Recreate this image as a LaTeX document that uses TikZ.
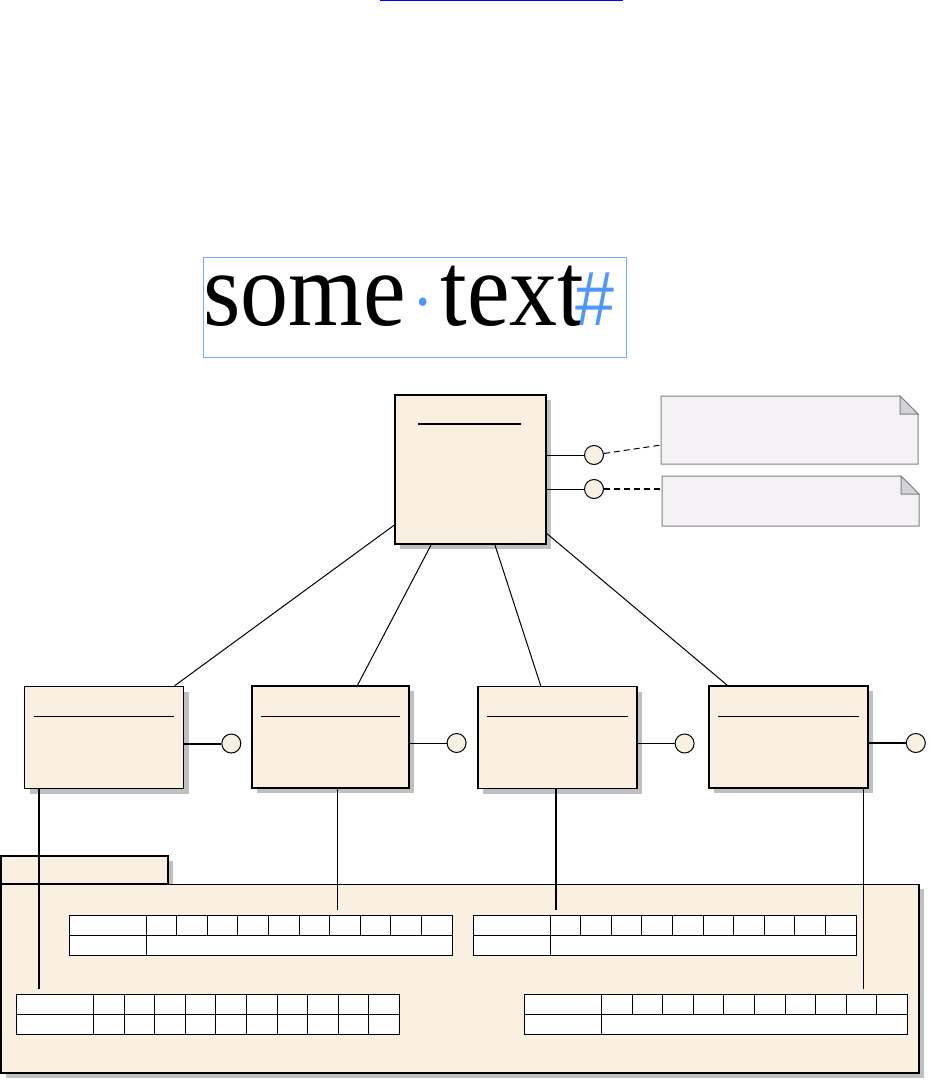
\documentclass[tikz,border=0pt]{standalone}
\usepackage{fontspec}
\setmainfont{Liberation Serif}
\newfontfamily\hashfont{Liberation Sans}
\usepackage{xcolor}
\usepackage{tikz}
\usetikzlibrary{positioning,shadows}
\definecolor{classfill}{RGB}{250,240,226}
\definecolor{notefill}{RGB}{245,242,246}
\definecolor{foldfill}{RGB}{213,210,216}
\definecolor{noteline}{RGB}{128,128,128}
\definecolor{markblue}{RGB}{80,150,255}
\definecolor{frameblue}{RGB}{120,170,245}
\definecolor{shade}{RGB}{192,192,192}

\begin{document}
\begin{tikzpicture}[x=1pt,y=-1pt,
  cls/.style={draw,fill=classfill,line width=1.6pt,minimum width=159pt,minimum height=102pt,
              drop shadow={shadow xshift=5pt,shadow yshift=-5pt,fill=shade,opacity=1}},
  port/.style={circle,draw,fill=classfill,line width=1pt,minimum size=19pt,inner sep=0pt},
  notebox/.style={minimum width=257pt,inner sep=0pt,outer sep=0pt},
  hint/.style={line width=1pt,dash pattern=on 6pt off 4pt},
  tbl/.style={draw,fill=white,line width=1pt,minimum width=383pt,minimum height=40pt,
              inner sep=0pt,outer sep=0pt},
  pkg/.style={fill=classfill,inner sep=0pt,outer sep=0pt,
              drop shadow={shadow xshift=5pt,shadow yshift=-5pt,fill=shade,opacity=1}}
]
\useasboundingbox (0,0) rectangle (932,1089);

\draw[blue,line width=1pt] (380,1) -- (623,1);

\node[draw=frameblue,line width=1pt,minimum width=423pt,minimum height=100pt,inner sep=0pt] (frame) at (414.5,307) {};
\node[anchor=base west,inner sep=0pt] (sometext) at (203,325)
  {\scalebox{1}[1.1]{\fontsize{96}{96}\selectfont some\makebox[0.36em]{\fontsize{64}{64}\selectfont\color{markblue}\textperiodcentered}text\hspace{-9pt}{\hashfont\fontsize{70}{70}\selectfont\color{markblue}\#}}};

\node[cls,line width=2pt,minimum width=151pt,minimum height=149pt] (top) at (470.5,469.5) {};
\draw[line width=2pt] ([xshift=24pt,yshift=-30pt]top.north west) -- ([xshift=-26pt,yshift=-30pt]top.north east);

\node[cls] (c1) at (104,737.5) {};
\node[cls,line width=1.2pt,minimum width=157pt] (c2) at (330.5,737) {};
\node[cls,line width=1.2pt] (c3) at (557.5,737.5) {};
\node[cls] (c4) at (788.5,737) {};
\foreach \c in {c1,c2,c3,c4}
  \draw[line width=1pt] ([xshift=10pt,yshift=-31pt]\c.north west) -- ([xshift=-10pt,yshift=-31pt]\c.north east);

\foreach \c/\w in {c1/2pt,c2/1pt,c3/1pt,c4/2pt}{
  \node[port,right=37pt of \c.east,yshift=-6pt] (p\c) {};
  \draw[line width=\w] (\c.east |- p\c) -- (p\c);
}

\node[port,right=37pt of top.east,yshift=14.5pt] (q1) {};
\node[port,right=37pt of top.east,yshift=-19.5pt] (q2) {};
\draw[line width=1pt] (top.east |- q1) -- (q1);
\draw[line width=1pt] (top.east |- q2) -- (q2);

\node[notebox,minimum height=68pt] (n1) at (789.5,430) {};
\node[notebox,minimum height=50pt] (n2) at (790.5,501) {};
\foreach \n in {n1,n2}{
  \draw[draw=noteline,fill=notefill,line width=1pt] (\n.north west) -- ([xshift=-18pt]\n.north east)
    -- ([yshift=-18pt]\n.north east) -- (\n.south east) -- (\n.south west) -- cycle;
  \draw[draw=noteline,fill=foldfill,line width=1pt] ([xshift=-18pt]\n.north east)
    -- ([xshift=-18pt,yshift=-18pt]\n.north east) -- ([yshift=-18pt]\n.north east) -- cycle;
}
\draw[hint] (q1) -- ([yshift=-15pt]n1.west);
\draw[hint,line width=2pt] (q2) -- (q2 -| n2.west);

\foreach \c in {c1,c2,c3,c4}
  \draw[line width=1pt] (top) -- (\c);

\node[pkg,draw,line width=2pt,minimum width=167pt,minimum height=28pt] (tab) at (84.5,870) {};
\node[pkg,draw,line width=1pt,minimum width=918pt,minimum height=189pt] (pkgbody) at (460,978.5) {};
\draw[line width=2pt] (tab.south east) -- (pkgbody.north west) -- (pkgbody.south west)
  -- (pkgbody.south east) -- (pkgbody.north east);

\node[tbl] (tA) at (260.5,935) {};
\node[tbl,right=21pt of tA] (tB) {};
\node[tbl] (tC) at (208,1014.5) {};
\node[tbl] (tD) at (716,1014) {};
\foreach \t/\e in {tA/west,tB/west,tC/south west,tD/west}{
  \draw[line width=1pt] (\t.west) -- (\t.east);
  \draw[line width=1pt] ([xshift=77pt]\t.north west) -- ([xshift=77pt]\t.south west);
  \foreach \k in {1,...,9}
    \draw[line width=1pt] ([xshift={77pt+\k*30.6pt}]\t.north west) -- ([xshift={77pt+\k*30.6pt}]\t.\e);
}

\coordinate (e1) at (39,989);
\coordinate (e2) at (337,910);
\coordinate (e3) at (556,910);
\coordinate (e4) at (863,989);
\draw[line width=2pt] (c1.south -| e1) -- (e1);
\draw[line width=1pt] (c2.south -| e2) -- (e2);
\draw[line width=1.6pt] (c3.south -| e3) -- (e3);
\draw[line width=1pt] (c4.south -| e4) -- (e4);
\end{tikzpicture}
\end{document}
